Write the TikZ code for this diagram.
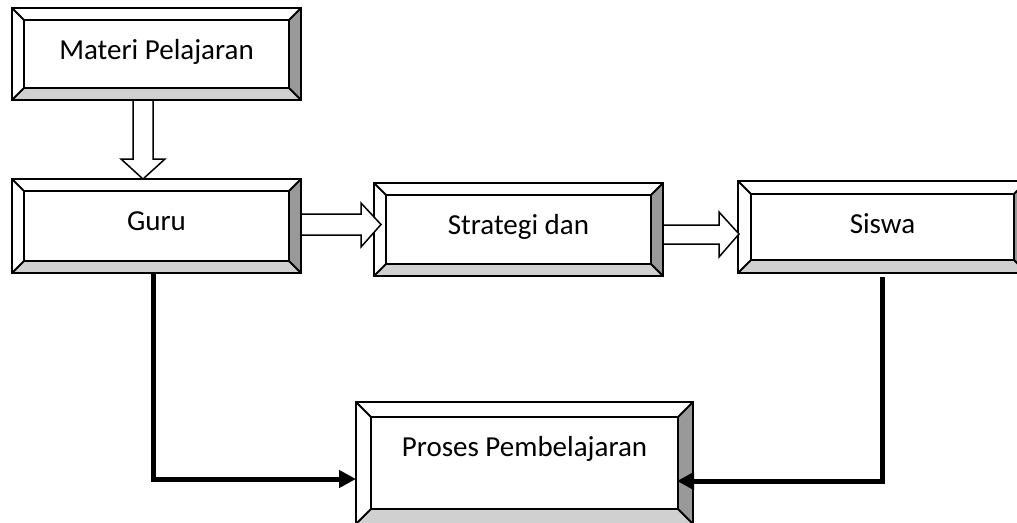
\documentclass[tikz,border=0pt]{standalone}
\usepackage{fontspec}
\setmainfont{Carlito}
\usetikzlibrary{calc,arrows.meta}
\definecolor{bevdark}{HTML}{999999}
\definecolor{bevlight}{HTML}{D0D0D0}
\tikzset{
  boxnode/.style={draw=none,inner sep=0pt,outer sep=0pt},
  lbl/.style={inner sep=0pt,font=\fontsize{29}{34}\selectfont},
  bevline/.style={line width=1.8pt,line join=miter},
  blk/.style={draw,fill=white,line width=1.5pt,line join=miter},
  conn/.style={line width=5pt,-{Triangle[length=17pt,width=17pt]}}
}
\newcommand\bevbox[7]{%
  \pgfmathsetmacro\bxa{#2+#6}\pgfmathsetmacro\bya{#3+#6}%
  \pgfmathsetmacro\bxb{#4-#6}\pgfmathsetmacro\byb{#5-#6}%
  \node[boxnode,minimum width={#4-#2},minimum height={#5-#3}] (#1) at ({(#2+#4)/2},{(#3+#5)/2}) {};
  \fill[white] (#2,#3) rectangle (#4,#5);
  \fill[bevdark] (#4,#3) -- (#4,#5) -- (\bxb,\byb) -- (\bxb,\bya) -- cycle;
  \fill[bevlight] (#2,#5) -- (#4,#5) -- (\bxb,\byb) -- (\bxa,\byb) -- cycle;
  \draw[bevline] (#2,#3) rectangle (#4,#5);
  \draw[bevline] (\bxa,\bya) rectangle (\bxb,\byb);
  \draw[bevline] (#2,#3) -- (\bxa,\bya) (#4,#3) -- (\bxb,\bya)
                 (#4,#5) -- (\bxb,\byb) (#2,#5) -- (\bxa,\byb);
  \node[lbl,anchor=base] (#1-t) at ({(#2+#4)/2},{\bya+39}) {#7};
}
\begin{document}
\begin{tikzpicture}[x=1pt,y=-1pt]
\useasboundingbox (0,0) rectangle (1017,522);
\clip (0,0) rectangle (1017,522);

\bevbox{m}{12}{8}{301}{100}{12}{Materi Pelajaran}
\bevbox{g}{12}{179}{301}{273}{12}{Guru}
\bevbox{s}{374}{183}{663}{276}{12}{Strategi dan}
\bevbox{w}{738}{181}{1027}{273}{13}{Siswa}
\bevbox{p}{356}{402}{693}{524}{15}{Proses Pembelajaran}

% block arrows
\draw[blk] let \p1=(m.south), \p2=(g.north) in
  (133pt,\y1) -- (153pt,\y1) -- (153pt,\y2+20pt) -- (165pt,\y2+20pt)
  -- (143pt,\y2) -- (121pt,\y2+20pt) -- (133pt,\y2+20pt) -- cycle;
\draw[blk] let \p1=(g.east), \p2=(s.west) in
  (\x1,-214pt) -- (\x2-13pt,-214pt) -- (\x2-13pt,-203pt) -- (\x2+7pt,-224.5pt)
  -- (\x2-13pt,-247pt) -- (\x2-13pt,-235pt) -- (\x1,-235pt) -- cycle;
\draw[blk] let \p1=(s.east), \p2=(w.west) in
  (\x1,-225pt) -- (\x2-19pt,-225pt) -- (\x2-19pt,-212pt) -- (\x2+1pt,-234pt)
  -- (\x2-19pt,-257pt) -- (\x2-19pt,-244pt) -- (\x1,-244pt) -- cycle;

% thick connectors
\draw[conn] let \p1=(g.south), \p2=(p.west) in
  (153pt,\y1) |- (\x2,-479pt);
\draw[conn] let \p1=(w.south), \p2=(p.east) in
  (882pt,\y1-4pt) |- (\x2-16pt,-481pt);
\end{tikzpicture}
\end{document}
